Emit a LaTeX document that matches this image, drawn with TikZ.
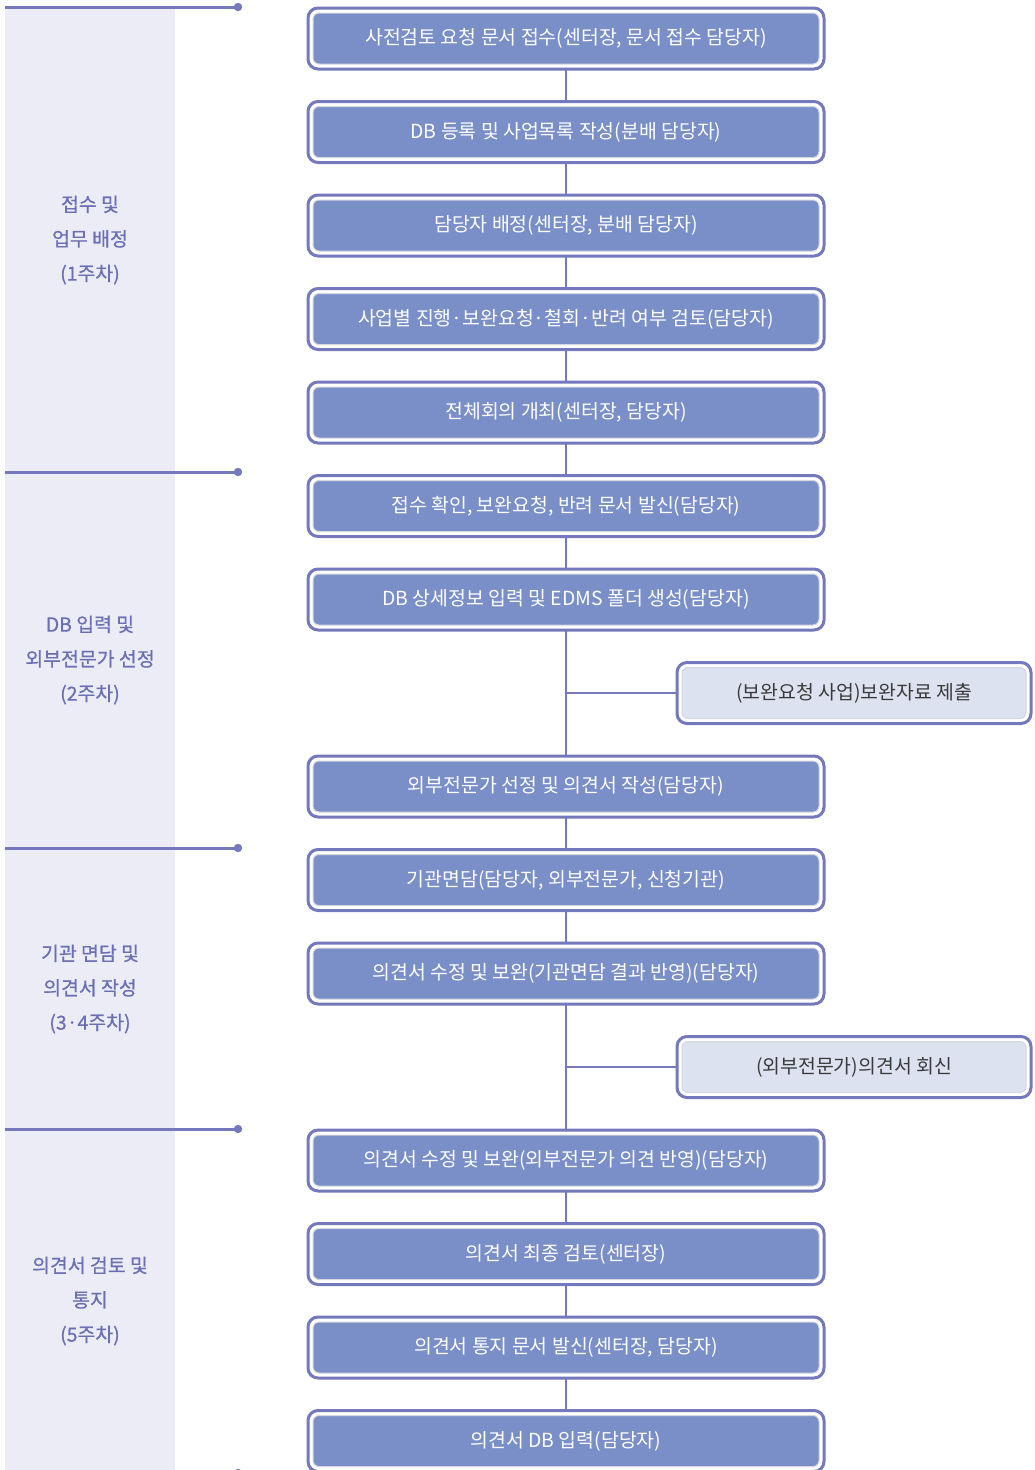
\documentclass[tikz,border=0pt]{standalone}
\usepackage{fontspec}
\setmainfont{Noto Sans CJK KR}
\newfontfamily\labelfont[FakeBold=0.7]{Noto Sans CJK KR}
\pgfdeclarelayer{back}
\pgfdeclarelayer{mid}
\pgfsetlayers{back,mid,main}
\definecolor{frame}{HTML}{7478BC}
\definecolor{boxfill}{HTML}{7A8EC8}
\definecolor{rim}{HTML}{D4D6E0}
\definecolor{sidefill}{HTML}{DDE2F0}
\definecolor{panel}{HTML}{ECECF6}
\definecolor{labeltxt}{HTML}{6B70B4}
\definecolor{sidetxt}{HTML}{3A3A3A}
\tikzset{
  mainbox/.style={minimum width=506pt, minimum height=51pt, fill=boxfill, draw=rim, line width=1pt,
    rounded corners=6pt, text=white, font=\fontsize{19.4}{22}\selectfont, inner sep=0pt},
  sidebox/.style={minimum width=344pt, minimum height=51pt, fill=sidefill, draw=rim, line width=1pt,
    rounded corners=6pt, text=sidetxt, font=\fontsize{19.4}{22}\selectfont, inner sep=0pt},
  outerframe/.style={draw=frame, line width=3pt, fill=white, rounded corners=10pt},
  conn/.style={draw=frame, line width=2pt},
  secline/.style={draw=frame, line width=3pt},
  seclabel/.style={text=labeltxt, align=center, font=\labelfont\fontsize{19.4}{34.5}\selectfont, inner sep=0pt},
}
\begin{document}
\begin{tikzpicture}[x=1pt,y=-1pt]
\useasboundingbox (0,0) rectangle (1034,1470);
\clip (0,0) rectangle (1034,1470);
% left panel
\fill[panel] (5,7) rectangle (175,1475);
% section lines
\foreach \yy/\nm in {7/d1,472/d2,848/d3,1129/d4,1473/d5}{
  \coordinate (\nm) at (238,\yy);
  \draw[secline] (5,\yy) -- (\nm);
  \fill[frame] (\nm) circle (4.2pt);
}
% section labels
\node[seclabel] (l1) at (90,240) {접수 및\\업무 배정\\(1주차)};
\node[seclabel] (l2) at (90,660) {DB 입력 및\\외부전문가 선정\\(2주차)};
\node[seclabel] (l3) at (90,989) {기관 면담 및\\의견서 작성\\(3·4주차)};
\node[seclabel] (l4) at (90,1301) {의견서 검토 및\\통지\\(5주차)};
% main boxes
\foreach \k/\nm/\txt in {
  0/b1/{사전검토 요청 문서 접수(센터장, 문서 접수 담당자)},
  1/b2/{DB 등록 및 사업목록 작성(분배 담당자)},
  2/b3/{담당자 배정(센터장, 분배 담당자)},
  3/b4/{사업별 진행·보완요청·철회·반려 여부 검토(담당자)},
  4/b5/{전체회의 개최(센터장, 담당자)},
  5/b6/{접수 확인, 보완요청, 반려 문서 발신(담당자)},
  6/b7/{DB 상세정보 입력 및 EDMS 폴더 생성(담당자)},
  8/b8/{외부전문가 선정 및 의견서 작성(담당자)},
  9/b9/{기관면담(담당자, 외부전문가, 신청기관)},
  10/b10/{의견서 수정 및 보완(기관면담 결과 반영)(담당자)},
  12/b11/{의견서 수정 및 보완(외부전문가 의견 반영)(담당자)},
  13/b12/{의견서 최종 검토(센터장)},
  14/b13/{의견서 통지 문서 발신(센터장, 담당자)},
  15/b14/{의견서 DB 입력(담당자)}}{
  \node[mainbox] (\nm) at (566,{38.5+93.5*\k}) {\txt};
  \begin{pgfonlayer}{mid}
    \draw[outerframe] ([shift={(-4.5,-4.5)}]\nm.north west) rectangle ([shift={(4.5,4.5)}]\nm.south east);
  \end{pgfonlayer}
}
% side boxes
\foreach \k/\nm/\txt in {7/s1/{(보완요청 사업)보완자료 제출}, 11/s2/{(외부전문가)의견서 회신}}{
  \node[sidebox] (\nm) at (854,{38.5+93.5*\k}) {\txt};
  \begin{pgfonlayer}{mid}
    \draw[outerframe] ([shift={(-4.5,-4.5)}]\nm.north west) rectangle ([shift={(4.5,4.5)}]\nm.south east);
  \end{pgfonlayer}
}
% connectors
\begin{pgfonlayer}{back}
\foreach \a/\b in {b1/b2,b2/b3,b3/b4,b4/b5,b5/b6,b6/b7,b7/b8,b8/b9,b9/b10,b10/b11,b11/b12,b12/b13,b13/b14}{
  \draw[conn] (\a.south) -- (\b.north);
}
\draw[conn] (s1.west -| b7.south) -- (s1.west);
\draw[conn] (s2.west -| b10.south) -- (s2.west);
\end{pgfonlayer}
\end{tikzpicture}
\end{document}
